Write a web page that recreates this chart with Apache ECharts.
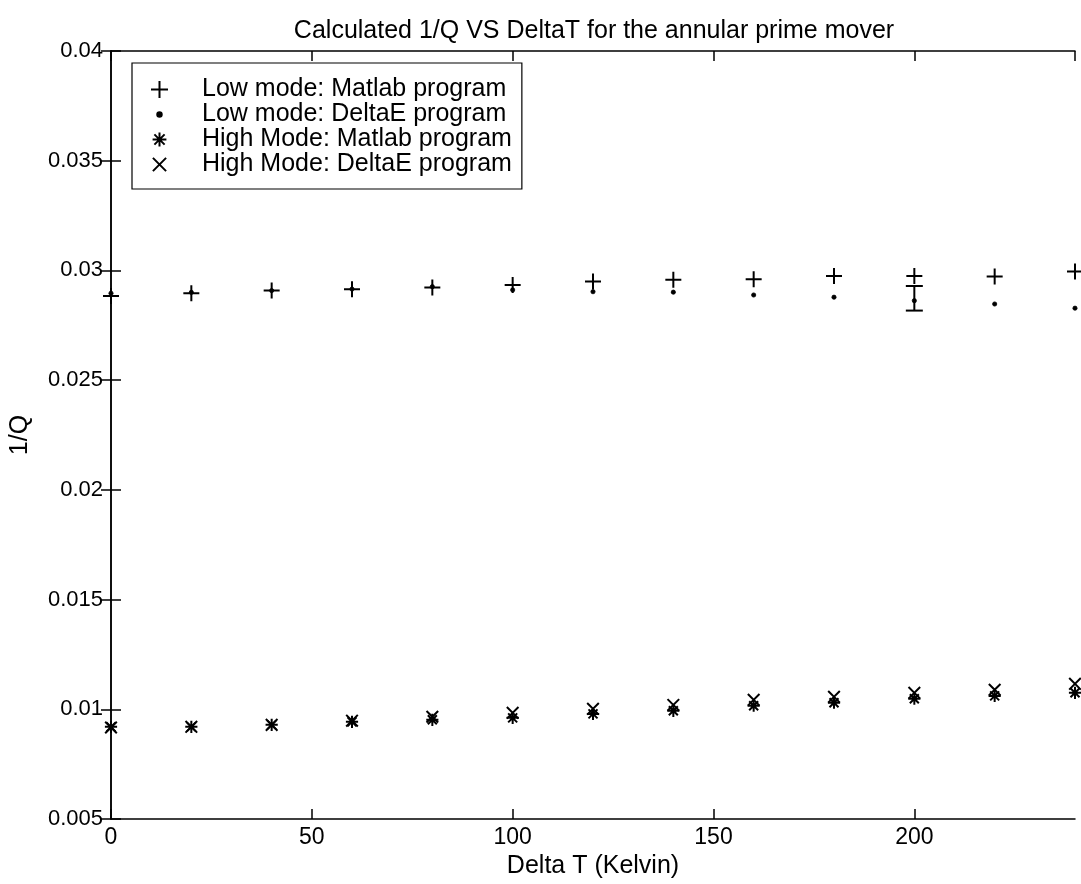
<!DOCTYPE html>
<html>
<head>
<meta charset="utf-8">
<script src="https://cdn.jsdelivr.net/npm/echarts@6/dist/echarts.min.js"></script>
<style>
html,body{margin:0;padding:0;background:#fff;}
#chart{width:1081px;height:884px;}
</style>
</head>
<body>
<div id="chart"></div>
<script>
const deltaT = [0, 20, 40, 60, 80, 100, 120, 140, 160, 180, 200, 220, 240];
const lowMatlab  = [0.02884, 0.02896, 0.02908, 0.02914, 0.02922, 0.02934, 0.02949, 0.02957, 0.02960, 0.02975, 0.02975, 0.02972, 0.02995];
const lowDeltaE  = [0.02896, 0.02900, 0.02908, 0.02915, 0.02926, 0.02911, 0.02903, 0.02901, 0.02888, 0.02878, 0.02862, 0.02847, 0.02828];
const highMatlab = [0.00920, 0.00920, 0.00929, 0.00943, 0.00952, 0.00961, 0.00979, 0.00993, 0.01016, 0.01030, 0.01048, 0.01061, 0.01075];
const highDeltaE = [0.00917, 0.00920, 0.00929, 0.00948, 0.00966, 0.00984, 0.01002, 0.01020, 0.01043, 0.01057, 0.01075, 0.01089, 0.01116];
const errorBarX    = [200];
const errorBarLow  = [0.02817];
const errorBarHigh = [0.02929];
const seriesNames = ['Low mode: Matlab program', 'Low mode: DeltaE program', 'High Mode: Matlab program', 'High Mode: DeltaE program'];
const titleText = 'Calculated 1/Q VS DeltaT for the annular prime mover';
const xName = 'Delta T (Kelvin)';
const yName = '1/Q';

const FONT = '"Liberation Sans", Arial, Helvetica, sans-serif';
const pairs = arr => deltaT.map((x, i) => [x, arr[i]]);

const SYM_PLUS  = 'path://M0,0M16,16M0,8L16,8M8,0L8,16';
const SYM_DOT   = 'path://M0,0M16,16M5.9,8A2.1,2.1,0,1,0,10.1,8A2.1,2.1,0,1,0,5.9,8Z';
const SYM_STAR  = 'path://M0,0M16,16M1.5,8L14.5,8M8,1.5L8,14.5M3.2,3.2L12.8,12.8M3.2,12.8L12.8,3.2';
const SYM_CROSS = 'path://M0,0M16,16M1.8,1.8L14.2,14.2M1.8,14.2L14.2,1.8';

const stroke = {color: '#000', borderColor: '#000', borderWidth: 2, opacity: 1};

const chart = echarts.init(document.getElementById('chart'));
chart.setOption({
  animation: false,
  backgroundColor: '#fff',
  grid: {left: 110, right: 6, top: 51, bottom: 65},
  graphic: [{
    type: 'text', x: 594, y: 31,
    style: {text: titleText, font: '25px ' + FONT, fill: '#000', textAlign: 'center', textVerticalAlign: 'middle'}
  }],
  legend: {
    orient: 'vertical', left: 132, top: 63,
    data: seriesNames,
    itemWidth: 17, itemHeight: 17, itemGap: 0,
    padding: [14, 10, 12, 18],
    borderColor: '#000', borderWidth: 1.2, backgroundColor: '#fff',
    textStyle: {fontFamily: FONT, fontSize: 25, color: '#000', lineHeight: 25, padding: [0, 0, 0, 29]},
    selectedMode: false
  },
  xAxis: [{
    type: 'value', min: 0, max: 240, interval: 50,
    name: xName, nameLocation: 'middle', nameGap: 32,
    nameTextStyle: {fontFamily: FONT, fontSize: 25, color: '#000'},
    axisLine: {lineStyle: {color: '#000', width: 1.5}},
    axisTick: {inside: true, length: 10, lineStyle: {color: '#000', width: 1.5}},
    axisLabel: {fontFamily: FONT, fontSize: 23, color: '#000', margin: 7, showMaxLabel: false},
    splitLine: {show: false}
  }, {
    type: 'value', position: 'top', min: 0, max: 240, interval: 50,
    axisLine: {lineStyle: {color: '#000', width: 1.5}},
    axisTick: {inside: true, length: 10, lineStyle: {color: '#000', width: 1.5}},
    axisLabel: {show: false}, splitLine: {show: false}
  }],
  yAxis: [{
    type: 'value', min: 0.005, max: 0.04, interval: 0.005,
    name: yName, nameLocation: 'middle', nameGap: 78,
    nameTextStyle: {fontFamily: FONT, fontSize: 25, color: '#000'},
    axisLine: {lineStyle: {color: '#000', width: 1.5}},
    axisTick: {inside: true, length: 10, lineStyle: {color: '#000', width: 1.5}},
    axisLabel: {fontFamily: FONT, fontSize: 22, color: '#000', margin: 8,
      formatter: v => String(+v.toFixed(3))},
    splitLine: {show: false}
  }, {
    type: 'value', position: 'right', min: 0.005, max: 0.04, interval: 0.005,
    axisLine: {lineStyle: {color: '#000', width: 1.5}},
    axisTick: {inside: true, length: 10, lineStyle: {color: '#000', width: 1.5}},
    axisLabel: {show: false}, splitLine: {show: false}
  }],
  series: [
    {name: seriesNames[0], type: 'scatter', data: pairs(lowMatlab), symbol: SYM_PLUS, symbolSize: 16, itemStyle: stroke, clip: false, z: 3},
    {name: seriesNames[1], type: 'scatter', data: pairs(lowDeltaE), symbol: SYM_DOT, symbolSize: 16, itemStyle: {color: '#000', borderColor: '#000', borderWidth: 0.8, opacity: 1}, clip: false, z: 4},
    {name: seriesNames[2], type: 'scatter', data: pairs(highMatlab), symbol: SYM_STAR, symbolSize: 15, itemStyle: stroke, clip: false, z: 3},
    {name: seriesNames[3], type: 'scatter', data: pairs(highDeltaE), symbol: SYM_CROSS, symbolSize: 15, itemStyle: stroke, clip: false, z: 3},
    {
      type: 'custom', name: 'errorbar', silent: true, z: 5,
      data: errorBarX.map((x, i) => [x, errorBarLow[i], errorBarHigh[i]]),
      renderItem: (params, api) => {
        const lo = api.coord([api.value(0), api.value(1)]);
        const hi = api.coord([api.value(0), api.value(2)]);
        const w = 8.5;
        const st = {stroke: '#000', lineWidth: 2};
        return {type: 'group', children: [
          {type: 'line', shape: {x1: lo[0], y1: lo[1], x2: hi[0], y2: hi[1]}, style: st},
          {type: 'line', shape: {x1: lo[0] - w, y1: lo[1], x2: lo[0] + w, y2: lo[1]}, style: st},
          {type: 'line', shape: {x1: hi[0] - w, y1: hi[1], x2: hi[0] + w, y2: hi[1]}, style: st}
        ]};
      }
    }
  ]
});
</script>
</body>
</html>
